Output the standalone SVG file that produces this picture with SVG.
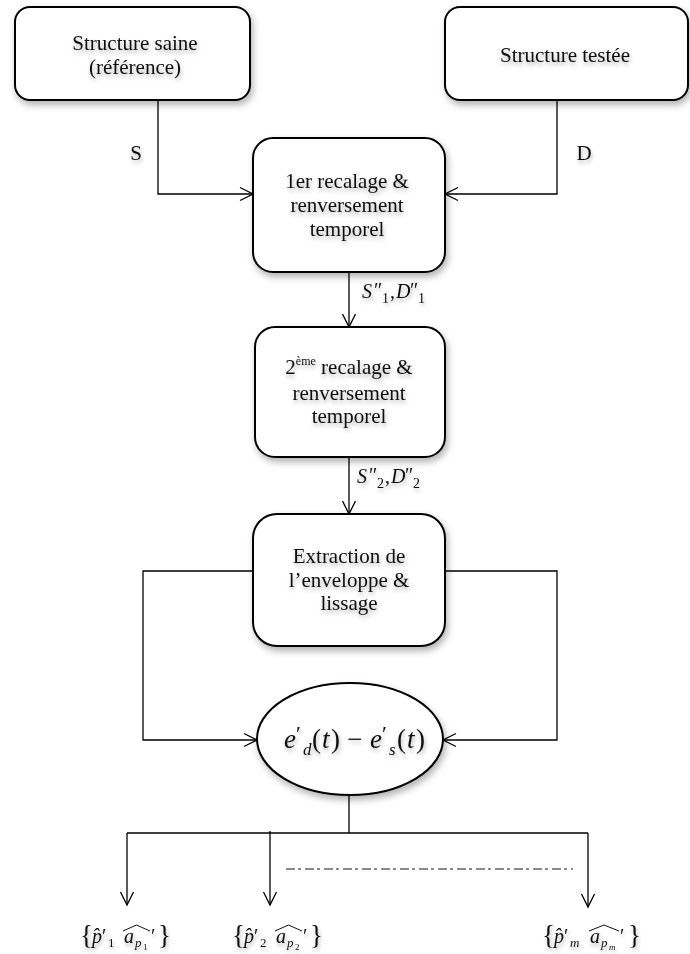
<svg xmlns="http://www.w3.org/2000/svg" width="690" height="954" viewBox="0 0 690 954">
<defs>
<style>
.box{fill:#fff;stroke:#000;stroke-width:2;filter:url(#sh)}
.lbl{font-family:"Liberation Serif","Times New Roman",serif;font-size:21px;fill:#111;text-anchor:middle;filter:url(#tsh)}
.math{font-family:"Liberation Serif","Times New Roman",serif;font-style:italic;fill:#111}
.up{font-style:normal}
.con{fill:none;stroke:#000;stroke-width:1.3}
.arr{marker-end:url(#ah)}
</style>
<filter id="sh" x="-20%" y="-20%" width="145%" height="160%">
<feDropShadow dx="2" dy="4" stdDeviation="3.5" flood-color="#000" flood-opacity="0.3"/>
</filter>
<filter id="tsh" x="-10%" y="-30%" width="120%" height="170%">
<feDropShadow dx="1" dy="3" stdDeviation="2" flood-color="#000" flood-opacity="0.3"/>
</filter>
<marker id="ah" markerUnits="userSpaceOnUse" markerWidth="16" markerHeight="16" viewBox="0 0 16 16" refX="14" refY="8" orient="auto">
<path d="M1,1.5 L14,8 L1,14.5" fill="none" stroke="#000" stroke-width="1.3"/>
</marker>
</defs>
<rect width="690" height="954" fill="#fff"/>

<g id="connectors">
<path class="con arr" d="M158,100 V194 H253"/>
<path class="con arr" d="M557,100 V194 H445"/>
<path class="con arr" d="M349,272 V327"/>
<path class="con arr" d="M349,457 V514"/>
<path class="con arr" d="M253,571 H143 V740 H257"/>
<path class="con arr" d="M445,571 H557 V740 H443"/>
<path class="con" d="M349,795 V833 M127,833 H588"/>
<path class="con arr" d="M127,833 V905"/>
<path class="con arr" d="M270,831 V905"/>
<path class="con arr" d="M588,833 V907"/>
<path d="M286,869 H573" fill="none" stroke="#666" stroke-width="1.3" stroke-dasharray="9 3 3 4"/>
<text class="lbl" x="136" y="160">S</text>
<text class="lbl" x="584" y="160">D</text>
<text class="math" font-size="20" filter="url(#tsh)"><tspan x="362" y="298">S</tspan><tspan class="up" x="374" y="297">″</tspan><tspan class="up" font-size="14" x="382" y="303">1</tspan><tspan class="up" x="390" y="298">,</tspan><tspan x="396" y="298">D</tspan><tspan class="up" x="410" y="297">″</tspan><tspan class="up" font-size="14" x="418" y="303">1</tspan></text>
<text class="math" font-size="20" filter="url(#tsh)"><tspan x="357" y="483">S</tspan><tspan class="up" x="369" y="482">″</tspan><tspan class="up" font-size="14" x="377" y="488">2</tspan><tspan class="up" x="385" y="483">,</tspan><tspan x="391" y="483">D</tspan><tspan class="up" x="405" y="482">″</tspan><tspan class="up" font-size="14" x="413" y="488">2</tspan></text>
</g>

<g id="n-saine">
<rect class="box" x="15" y="7" width="235" height="93" rx="15"/>
<text class="lbl" x="135" y="50">Structure saine</text>
<text class="lbl" x="135" y="74">(référence)</text>
</g>

<g id="n-testee">
<rect class="box" x="445" y="7" width="243" height="93" rx="15"/>
<text class="lbl" x="565" y="62">Structure testée</text>
</g>

<g id="n-recalage1">
<rect class="box" x="253" y="138" width="192" height="134" rx="20"/>
<text class="lbl" x="347" y="188">1er recalage &amp;</text>
<text class="lbl" x="347" y="212">renversement</text>
<text class="lbl" x="347" y="236">temporel</text>
</g>

<g id="n-recalage2">
<rect class="box" x="255" y="327" width="190" height="130" rx="20"/>
<text class="lbl" x="349" y="374">2<tspan font-size="12" dy="-9">ème</tspan><tspan dy="9"> recalage &amp;</tspan></text>
<text class="lbl" x="349" y="400">renversement</text>
<text class="lbl" x="349" y="423">temporel</text>
</g>

<g id="n-extraction">
<rect class="box" x="253" y="514" width="192" height="132" rx="24"/>
<text class="lbl" x="349" y="563">Extraction de</text>
<text class="lbl" x="349" y="587">l’enveloppe &amp;</text>
<text class="lbl" x="349" y="610">lissage</text>
</g>

<g id="n-difference">
<ellipse class="box" cx="350" cy="739" rx="93" ry="56"/>
<text class="math" font-size="27" filter="url(#tsh)"><tspan x="284" y="748">e</tspan><tspan class="up" font-size="22" x="296" y="741">′</tspan><tspan font-size="17" x="303" y="755">d</tspan><tspan class="up" x="312" y="748">(</tspan><tspan x="322" y="748">t</tspan><tspan class="up" x="331" y="748">)</tspan><tspan class="up" x="347" y="748">−</tspan><tspan x="370" y="748">e</tspan><tspan class="up" font-size="22" x="382" y="741">′</tspan><tspan font-size="17" x="389" y="755">s</tspan><tspan class="up" x="397" y="748">(</tspan><tspan x="407" y="748">t</tspan><tspan class="up" x="416" y="748">)</tspan></text>
</g>

<g id="n-out1">
<text class="math" font-size="20" filter="url(#tsh)"><tspan class="up" font-size="27" x="80" y="944">{</tspan><tspan x="92" y="943">p̂</tspan><tspan class="up" x="102" y="943">′</tspan><tspan class="up" font-size="13" x="108" y="947">1</tspan><tspan x="124" y="943">a</tspan><tspan font-size="13" x="135" y="947">p</tspan><tspan class="up" font-size="9" x="143" y="950">1</tspan><tspan class="up" x="151" y="943">′</tspan><tspan class="up" font-size="27" x="158" y="944">}</tspan></text>
<path d="M123,931 L136.5,925 L150,931" fill="none" stroke="#111" stroke-width="1"/>
</g>

<g id="n-out2">
<text class="math" font-size="20" filter="url(#tsh)"><tspan class="up" font-size="27" x="232" y="944">{</tspan><tspan x="244" y="943">p̂</tspan><tspan class="up" x="254" y="943">′</tspan><tspan class="up" font-size="13" x="260" y="947">2</tspan><tspan x="276" y="943">a</tspan><tspan font-size="13" x="287" y="947">p</tspan><tspan class="up" font-size="9" x="295" y="950">2</tspan><tspan class="up" x="303" y="943">′</tspan><tspan class="up" font-size="27" x="310" y="944">}</tspan></text>
<path d="M275,931 L288.5,925 L302,931" fill="none" stroke="#111" stroke-width="1"/>
</g>

<g id="n-outm">
<text class="math" font-size="20" filter="url(#tsh)"><tspan class="up" font-size="27" x="542" y="944">{</tspan><tspan x="554" y="943">p̂</tspan><tspan class="up" x="564" y="943">′</tspan><tspan font-size="13" x="570" y="947">m</tspan><tspan x="590" y="943">a</tspan><tspan font-size="13" x="601" y="947">p</tspan><tspan font-size="9" x="609" y="950">m</tspan><tspan class="up" x="620" y="943">′</tspan><tspan class="up" font-size="27" x="628" y="944">}</tspan></text>
<path d="M589,931 L604,925 L619,931" fill="none" stroke="#111" stroke-width="1"/>
</g>
</svg>
